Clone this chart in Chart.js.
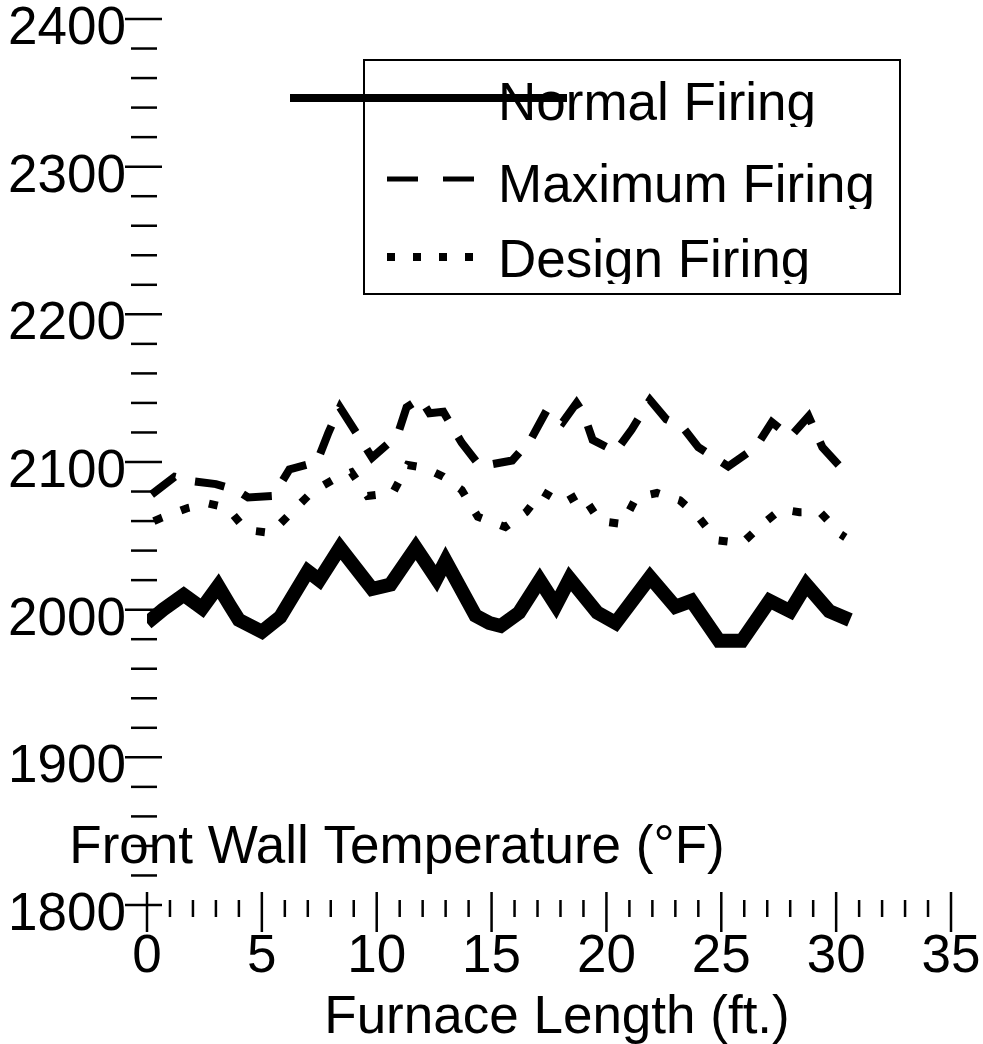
<!DOCTYPE html>
<html lang="en-US">
<head>
  <meta charset="utf-8">
  <title>Front wall temperature</title>
  <script src="https://cdn.jsdelivr.net/npm/chart.js@4.4.0/dist/chart.umd.min.js"></script>
  <style>
    html, body { margin: 0; padding: 0; background: #fff; }
    canvas { display: block; }
  </style>
</head>
<body>
  <canvas id="chart-0" width="983" height="1044"></canvas>

  <script>
    // values
    let normalX = [0, 0.7, 1.6, 2.4, 3.1, 3.6, 4.0, 5.0, 5.8, 7.0, 7.5, 8.4, 9.8, 10.6, 11.7, 12.6, 13.0, 14.3, 14.9, 15.4, 16.2, 17.1, 17.8, 18.4, 19.6, 20.4, 21.9, 23.0, 23.7, 24.9, 25.9, 27.1, 28.0, 28.7, 29.7, 30.6];
    let normalY = [1991, 2000, 2010, 2001, 2016, 2003, 1993, 1985, 1995, 2026, 2020, 2042, 2014, 2017, 2042, 2021, 2033, 1996, 1991, 1989, 1998, 2020, 2003, 2021, 1998, 1991, 2022, 2002, 2006, 1979, 1979, 2006, 1999, 2017, 1999, 1993];

    let maxX = [0.2, 1.2, 2.0, 3.0, 3.9, 4.4, 5.5, 6.2, 7.4, 7.9, 8.4, 9.1, 9.8, 10.9, 11.3, 11.9, 12.3, 12.9, 13.7, 14.5, 15.9, 16.7, 17.4, 18.1, 18.7, 19.0, 19.4, 20.4, 21.1, 21.9, 22.6, 23.3, 24.0, 25.3, 26.5, 27.2, 28.0, 28.8, 29.4, 30.4];
    let maxY = [2078, 2090, 2087, 2085, 2081, 2076, 2077, 2095, 2100, 2120, 2137, 2120, 2103, 2118, 2137, 2143, 2133, 2134, 2113, 2097, 2101, 2115, 2135, 2127, 2140, 2133, 2115, 2107, 2122, 2142, 2129, 2124, 2110, 2097, 2110, 2127, 2117, 2131, 2110, 2093];

    let designX = [0.3, 0.6, 1.8, 2.65, 3.5, 4.3, 5.4, 6.3, 7.2, 8.1, 8.9, 9.6, 10.7, 11.35, 12.1, 12.9, 13.7, 14.4, 15.6, 16.5, 17.2, 18.1, 18.9, 19.7, 20.7, 21.3, 22.2, 23.2, 24.0, 24.8, 25.9, 26.8, 27.6, 28.4, 29.3, 30.2, 30.4];
    let designY = [2060, 2062, 2069, 2072, 2069, 2054, 2052, 2066, 2080, 2088, 2093, 2077, 2079, 2098, 2096, 2090, 2081, 2063, 2056, 2066, 2080, 2072, 2079, 2060, 2058, 2076, 2079, 2074, 2063, 2047, 2045, 2058, 2068, 2066, 2066, 2051, 2049];

    let seriesNames = ['Normal Firing', 'Maximum Firing', 'Design Firing'];
    let xTicks = [0, 5, 10, 15, 20, 25, 30, 35];
    let yTicks = [1800, 1900, 2000, 2100, 2200, 2300, 2400];
    let xTitle = 'Furnace Length (ft.)';
    let yTitle = 'Front Wall Temperature (\u00b0F)';

    const FONT = '53px "Liberation Sans", Arial, sans-serif';

    function points(xs, ys) {
      return xs.map(function(x, i) { return {x: x, y: ys[i]}; });
    }

    function seg(ctx, x1, y1, x2, y2) {
      ctx.beginPath();
      ctx.moveTo(x1, y1);
      ctx.lineTo(x2, y2);
      ctx.stroke();
    }

    // ticks sit across the axis position, no axis lines drawn
    let axesPlugin = {
      id: 'oldAxes',
      afterDraw: function(chart) {
        let ctx = chart.ctx;
        let xs = chart.scales.x, ys = chart.scales.y;
        let x0 = xs.getPixelForValue(xs.min);
        let y0 = ys.getPixelForValue(ys.min);
        ctx.save();
        ctx.strokeStyle = '#000';
        ctx.fillStyle = '#000';
        ctx.lineWidth = 2.5;

        for (let v = ys.min; v <= ys.max; v += 20) {
          let py = ys.getPixelForValue(v);
          let major = yTicks.indexOf(v) >= 0;
          seg(ctx, x0 - (major ? 22 : 16), py, x0 + (major ? 15 : 10), py);
        }
        for (let v = xs.min; v <= xs.max; v += 1) {
          let px = xs.getPixelForValue(v);
          let major = xTicks.indexOf(v) >= 0;
          seg(ctx, px, y0 - (major ? 13 : 5), px, y0 + (major ? 27 : 12));
        }

        ctx.font = FONT;
        ctx.textBaseline = 'alphabetic';
        ctx.textAlign = 'right';
        yTicks.forEach(function(v) {
          ctx.fillText(String(v), x0 - 21, ys.getPixelForValue(v) + 25);
        });
        ctx.textAlign = 'center';
        xTicks.forEach(function(v) {
          ctx.fillText(String(v), xs.getPixelForValue(v), y0 + 67);
        });
        ctx.fillText(yTitle, 397, 863);
        ctx.fillText(xTitle, 557, 1033);

        // legend
        let ds = chart.data.datasets;
        ctx.lineWidth = 2;
        ctx.strokeRect(364, 60, 536, 234);
        ctx.textAlign = 'left';
        let rows = [120, 202, 277];
        rows.forEach(function(base, i) {
          ctx.save();
          ctx.beginPath();
          ctx.rect(364, base - 60, 536, 67);
          ctx.clip();
          ctx.fillText(ds[i].label, 498, base);
          ctx.restore();
        });
        ctx.lineWidth = 8;
        seg(ctx, 290, 98, 567, 98);
        ctx.lineWidth = 5;
        ctx.setLineDash([31, 25]);
        seg(ctx, 387, 179, 475, 179);
        ctx.lineWidth = 8;
        ctx.setLineDash([8, 18]);
        seg(ctx, 387, 257, 475, 257);
        ctx.restore();
      }
    };

    let data = {
      datasets: [
        {
          label: seriesNames[0],
          data: points(normalX, normalY),
          borderColor: '#000',
          borderWidth: 14
        },
        {
          label: seriesNames[1],
          data: points(maxX, maxY),
          borderColor: '#000',
          borderWidth: 8,
          borderDash: [30, 20]
        },
        {
          label: seriesNames[2],
          data: points(designX, designY),
          borderColor: '#000',
          borderWidth: 8,
          borderDash: [9, 20]
        }
      ]
    };

    let chart = new Chart('chart-0', {
      type: 'line',
      data: data,
      options: {
        responsive: false,
        animation: false,
        layout: {
          padding: {left: 147, right: 32, top: 19, bottom: 139}
        },
        elements: {
          point: {radius: 0},
          line: {tension: 0, borderJoinStyle: 'miter', borderCapStyle: 'butt'}
        },
        scales: {
          x: {type: 'linear', min: 0, max: 35, display: false},
          y: {type: 'linear', min: 1800, max: 2400, display: false}
        },
        plugins: {
          legend: {display: false},
          tooltip: {enabled: false}
        }
      },
      plugins: [axesPlugin]
    });
  </script>
</body>
</html>
